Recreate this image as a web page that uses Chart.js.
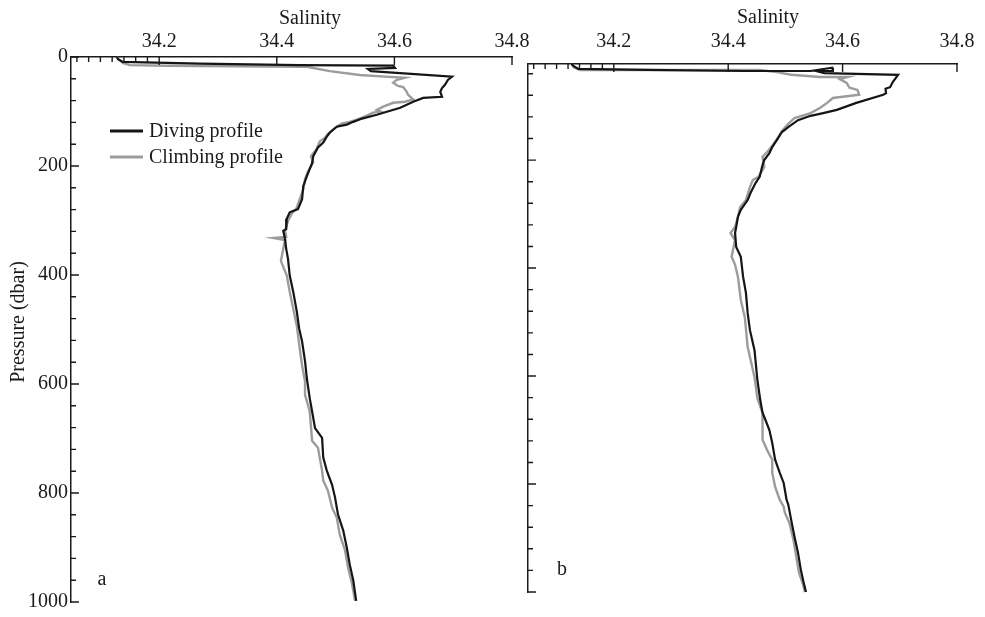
<!DOCTYPE html>
<html>
<head>
<meta charset="utf-8">
<script src="https://cdn.jsdelivr.net/npm/chart.js@4.4.1/dist/chart.umd.min.js"></script>
<style>
  html, body { margin: 0; padding: 0; background: #ffffff; }
  #wrap { position: relative; width: 985px; height: 617px; }
  #wrap canvas { position: absolute; left: 0; top: 0; }
</style>
</head>
<body>
<div id="wrap">
  <canvas id="panelA" width="985" height="617"></canvas>
  <canvas id="panelB" width="985" height="617"></canvas>
</div>
<script>
// ---- Salinity axis ticks (shared by both panels) ----
const salinityTicks  = [34.06, 34.08, 34.10, 34.12, 34.14, 34.16, 34.18, 34.2, 34.4, 34.6, 34.8];
const salinityLabels = [34.2, 34.4, 34.6, 34.8];

// ---- Pressure axis ticks ----
const pressureTicksA = [0, 40, 80, 120, 160, 200, 240, 280, 320, 360, 400, 440, 480, 520, 560, 600,
                        640, 680, 720, 760, 800, 840, 880, 920, 960, 1000];
const pressureTicksB = [40, 80, 120, 160, 200, 240, 280, 320, 360, 400, 440, 480, 520, 560, 600,
                        640, 680, 720, 760, 800, 840, 880, 920, 960, 1000];
const pressureLabelsA = [0, 200, 400, 600, 800, 1000];

// ---- Panel a: diving profile ----
const divingA_P = [0, 4, 9, 12, 15, 16, 20, 22, 26, 36,
                   42, 51, 57, 64, 73, 75, 82, 93, 106, 113,
                   119, 124, 128, 139, 146, 157, 166, 182, 195, 219,
                   237, 261, 279, 285, 297, 316, 319, 334, 352, 370,
                   401, 431, 467, 498, 522, 558, 589, 626, 650, 681,
                   699, 735, 759, 785, 808, 839, 869, 900, 931, 960, 998];
const divingA_S = [34.128, 34.130, 34.138, 34.269, 34.439, 34.598, 34.601, 34.555, 34.560, 34.698,
                   34.691, 34.686, 34.681, 34.678, 34.681, 34.649, 34.632, 34.610, 34.570, 34.545,
                   34.530, 34.519, 34.502, 34.490, 34.485, 34.479, 34.470, 34.462, 34.460, 34.451,
                   34.445, 34.443, 34.436, 34.422, 34.417, 34.416, 34.411, 34.414, 34.416, 34.419,
                   34.422, 34.428, 34.434, 34.438, 34.443, 34.448, 34.451, 34.456, 34.460, 34.465,
                   34.477, 34.479, 34.485, 34.494, 34.499, 34.504, 34.513, 34.519, 34.524, 34.530, 34.535];

// ---- Panel a: climbing profile ----
const climbingA_P = [0, 5, 11, 15, 16, 18, 18, 26, 33, 36,
                     38, 42, 47, 53, 55, 64, 69, 78, 82, 84,
                     91, 97, 100, 102, 109, 115, 119, 122, 130, 141,
                     148, 155, 170, 182, 193, 210, 224, 243, 261, 279,
                     286, 301, 319, 330, 332, 336, 352, 374, 385, 401,
                     431, 462, 493, 535, 566, 595, 620, 650, 704, 717,
                     759, 777, 796, 827, 845, 876, 905, 936, 967, 998];
const climbingA_S = [34.128, 34.132, 34.138, 34.150, 34.213, 34.439, 34.451, 34.490, 34.541, 34.584,
                     34.618, 34.604, 34.598, 34.606, 34.615, 34.621, 34.623, 34.632, 34.618, 34.598,
                     34.581, 34.570, 34.576, 34.564, 34.550, 34.536, 34.524, 34.511, 34.499, 34.487,
                     34.482, 34.473, 34.467, 34.458, 34.462, 34.453, 34.448, 34.445, 34.439, 34.433,
                     34.426, 34.419, 34.414, 34.416, 34.394, 34.414, 34.411, 34.407, 34.411, 34.417,
                     34.422, 34.428, 34.434, 34.439, 34.443, 34.448, 34.448, 34.456, 34.460, 34.470,
                     34.477, 34.479, 34.487, 34.494, 34.502, 34.507, 34.516, 34.521, 34.528, 34.533];

// ---- Panel b: diving profile ----
const divingB_P = [22, 26, 31, 33, 35, 35, 29, 35, 35, 39,
                   42, 55, 65, 68, 76, 79, 94, 107, 113, 118,
                   126, 139, 148, 163, 176, 187, 200, 209, 231, 242,
                   261, 274, 292, 305, 324, 335, 361, 379, 416, 446,
                   483, 515, 552, 607, 644, 668, 681, 700, 724, 755,
                   779, 798, 829, 838, 866, 898, 927, 959, 983, 1000];
const divingB_S = [34.126, 34.130, 34.138, 34.257, 34.426, 34.544, 34.582, 34.583, 34.554, 34.568,
                   34.697, 34.688, 34.683, 34.675, 34.676, 34.671, 34.624, 34.590, 34.566, 34.544,
                   34.522, 34.505, 34.494, 34.485, 34.477, 34.472, 34.463, 34.460, 34.455, 34.448,
                   34.439, 34.434, 34.422, 34.417, 34.414, 34.412, 34.414, 34.422, 34.426, 34.431,
                   34.434, 34.438, 34.446, 34.451, 34.456, 34.460, 34.465, 34.472, 34.477, 34.482,
                   34.490, 34.497, 34.502, 34.505, 34.510, 34.516, 34.522, 34.527, 34.532, 34.536];

// ---- Panel b: climbing profile ----
const climbingB_P = [22, 28, 33, 33, 33, 37, 42, 46, 46, 50,
                     57, 66, 70, 79, 85, 94, 103, 113, 122, 133,
                     146, 163, 176, 185, 194, 213, 231, 237, 250, 274,
                     287, 305, 324, 335, 348, 379, 394, 416, 459, 491,
                     546, 602, 641, 668, 718, 737, 755, 779, 805, 829,
                     842, 853, 872, 903, 935, 965, 987, 1000];
const climbingB_S = [34.126, 34.130, 34.141, 34.257, 34.455, 34.485, 34.510, 34.561, 34.609, 34.595,
                     34.607, 34.612, 34.626, 34.629, 34.583, 34.573, 34.561, 34.544, 34.516, 34.505,
                     34.494, 34.484, 34.475, 34.468, 34.460, 34.463, 34.453, 34.443, 34.438, 34.431,
                     34.421, 34.417, 34.412, 34.404, 34.412, 34.406, 34.412, 34.417, 34.422, 34.429,
                     34.434, 34.446, 34.451, 34.460, 34.460, 34.468, 34.477, 34.477, 34.482, 34.490,
                     34.497, 34.499, 34.507, 34.514, 34.519, 34.524, 34.531, 34.534];

// ---- Styling ----
const FONT = "'Liberation Serif', 'Times New Roman', serif";
const FONT_SIZE = 20;
const INK = '#1a1a1a';
const DIVE_COLOR = '#151515';
const CLIMB_COLOR = '#9c9c9c';

function toPoints(S, P) {
  return S.map((s, i) => ({ x: s, y: P[i] }));
}

// Short tick marks drawn on the inner side of the top and left axes
const innerTicks = {
  id: 'innerTicks',
  afterDraw(chart, args, opts) {
    const { ctx, chartArea: area, scales } = chart;
    ctx.save();
    ctx.strokeStyle = INK;
    ctx.lineWidth = 1.4;
    ctx.beginPath();
    scales.x.ticks.forEach(t => {
      const px = scales.x.getPixelForValue(t.value);
      const len = salinityLabels.includes(t.value) ? 8 : 5;
      ctx.moveTo(px, area.top);
      ctx.lineTo(px, area.top + len);
    });
    scales.y.ticks.forEach(t => {
      const py = scales.y.getPixelForValue(t.value);
      const len = t.value % 200 === 0 ? 8 : 5;
      ctx.moveTo(area.left, py);
      ctx.lineTo(area.left + len, py);
    });
    ctx.stroke();
    ctx.restore();
  }
};

// Free-standing text: axis titles and panel letters
const panelText = {
  id: 'panelText',
  afterDraw(chart, args, opts) {
    const ctx = chart.ctx;
    ctx.save();
    ctx.fillStyle = INK;
    ctx.font = FONT_SIZE + 'px ' + FONT;
    ctx.textBaseline = 'middle';
    (opts.items || []).forEach(it => {
      ctx.save();
      ctx.translate(it.x, it.y);
      if (it.rotate) ctx.rotate(it.rotate);
      ctx.textAlign = it.align || 'center';
      ctx.fillText(it.text, 0, 0);
      ctx.restore();
    });
    ctx.restore();
  }
};

// Line-sample legend inside panel a
const lineLegend = {
  id: 'lineLegend',
  afterDraw(chart, args, opts) {
    if (!opts.show) return;
    const ctx = chart.ctx;
    ctx.save();
    ctx.font = FONT_SIZE + 'px ' + FONT;
    ctx.textBaseline = 'middle';
    ctx.textAlign = 'left';
    chart.data.datasets.forEach((ds, i) => {
      const y = opts.y + i * opts.step;
      ctx.strokeStyle = ds.borderColor;
      ctx.lineWidth = 3;
      ctx.beginPath();
      ctx.moveTo(opts.x, y);
      ctx.lineTo(opts.x + opts.lineLen, y);
      ctx.stroke();
      ctx.fillStyle = INK;
      ctx.fillText(ds.label, opts.x + opts.lineLen + 6, y + 1);
    });
    ctx.restore();
  }
};

function makePanel(canvasId, cfg) {
  return new Chart(document.getElementById(canvasId), {
    type: 'scatter',
    data: {
      datasets: [
        { label: 'Diving profile', data: toPoints(cfg.diveS, cfg.diveP),
          borderColor: DIVE_COLOR, backgroundColor: DIVE_COLOR, borderWidth: 2.2,
          showLine: true, pointRadius: 0, tension: 0, clip: false },
        { label: 'Climbing profile', data: toPoints(cfg.climbS, cfg.climbP),
          borderColor: CLIMB_COLOR, backgroundColor: CLIMB_COLOR, borderWidth: 2.4,
          showLine: true, pointRadius: 0, tension: 0, clip: false }
      ]
    },
    options: {
      responsive: false,
      animation: false,
      events: [],
      layout: { autoPadding: false, padding: cfg.padding },
      plugins: {
        legend: { display: false },
        tooltip: { enabled: false },
        panelText: { items: cfg.texts },
        lineLegend: cfg.legend
      },
      scales: {
        x: {
          type: 'linear', position: 'top', min: 34.05, max: 34.8,
          afterBuildTicks: s => { s.ticks = salinityTicks.map(v => ({ value: v })); },
          afterFit: s => { s.height = cfg.xHeight; },
          grid: { display: false, drawTicks: false },
          border: { display: true, color: INK, width: 1.5 },
          ticks: {
            autoSkip: false, maxRotation: 0, minRotation: 0, padding: cfg.xPad,
            color: INK, font: { family: FONT, size: FONT_SIZE },
            callback: v => salinityLabels.includes(v) ? v.toFixed(1) : ''
          }
        },
        y: {
          type: 'linear', position: 'left', reverse: true, min: cfg.yMin, max: 1000,
          afterBuildTicks: s => { s.ticks = cfg.yTicks.map(v => ({ value: v })); },
          afterFit: s => { s.width = cfg.yWidth; },
          grid: { display: false, drawTicks: false },
          border: { display: true, color: INK, width: 1.5 },
          ticks: {
            autoSkip: false, maxRotation: 0, minRotation: 0, padding: 3,
            color: INK, font: { family: FONT, size: FONT_SIZE },
            callback: v => cfg.yLabels.includes(v) ? String(v) : ''
          }
        }
      }
    },
    plugins: [innerTicks, panelText, lineLegend]
  });
}

makePanel('panelA', {
  diveS: divingA_S, diveP: divingA_P, climbS: climbingA_S, climbP: climbingA_P,
  padding: { left: 0, top: 0, right: 473, bottom: 12 },
  xHeight: 57, xPad: 3.5, yWidth: 71, yMin: 0,
  yTicks: pressureTicksA, yLabels: pressureLabelsA,
  texts: [
    { text: 'Salinity', x: 310, y: 19 },
    { text: 'Pressure (dbar)', x: 19, y: 322, rotate: -Math.PI / 2 },
    { text: 'a', x: 102, y: 580 }
  ],
  legend: { show: true, x: 110, y: 131, step: 26, lineLen: 33 }
});

makePanel('panelB', {
  diveS: divingB_S, diveP: divingB_P, climbS: climbingB_S, climbP: climbingB_P,
  padding: { left: 490, top: 0, right: 14, bottom: 25 },
  xHeight: 64, xPad: 10.5, yWidth: 38, yMin: 22,
  yTicks: pressureTicksB, yLabels: [],
  texts: [
    { text: 'Salinity', x: 768, y: 18 },
    { text: 'b', x: 562, y: 570 }
  ],
  legend: { show: false }
});
</script>
</body>
</html>
